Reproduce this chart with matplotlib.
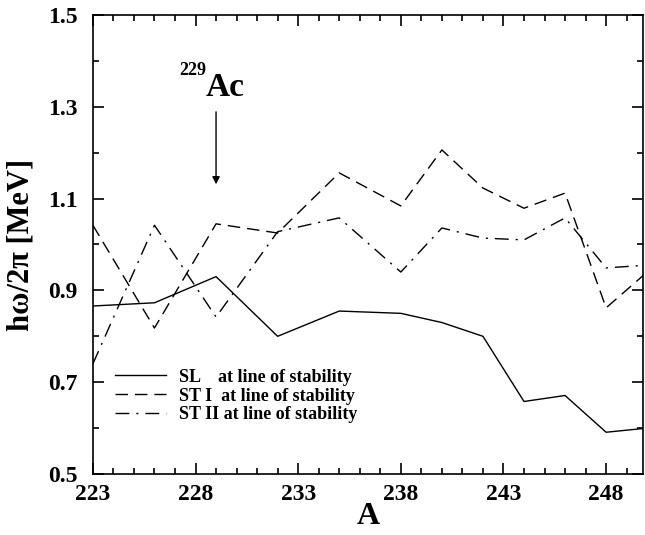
import matplotlib
matplotlib.use("Agg")
import matplotlib.pyplot as plt
from matplotlib.ticker import FixedLocator, MultipleLocator

plt.rcParams["font.family"] = ["Liberation Serif", "DejaVu Serif"]
plt.rcParams["font.weight"] = "bold"

# mass number A
mass = [223, 226, 229, 232, 235, 238, 240, 242, 244, 246, 248, 250]

# hbar*omega values (MeV)
sl = [0.866, 0.873, 0.930, 0.800, 0.855, 0.850, 0.830, 0.800, 0.658, 0.671, 0.591, 0.600]
st1 = [1.042, 0.818, 1.045, 1.025, 1.156, 1.084, 1.206, 1.123, 1.079, 1.112, 0.862, 0.940]
st2 = [0.740, 1.042, 0.842, 1.028, 1.058, 0.940, 1.036, 1.014, 1.010, 1.058, 0.949, 0.955]

xticks = [223, 228, 233, 238, 243, 248]
yticks = [0.5, 0.7, 0.9, 1.1, 1.3, 1.5]

labels = ["SL    at line of stability",
          "ST I  at line of stability",
          "ST II at line of stability"]

fig = plt.figure(figsize=(6.45, 5.35), dpi=100)
ax = fig.add_axes([0.144, 0.114, 0.853, 0.858])

ax.plot(mass, sl, color="black", lw=1.0, label=labels[0])
ax.plot(mass, st1, color="black", lw=1.0, dashes=(9, 5), label=labels[1])
ax.plot(mass, st2, color="black", lw=1.0, dashes=(10, 5, 1.5, 5), label=labels[2])

ax.set_xlim(223, 249.8)
ax.set_ylim(0.5, 1.5)
ax.xaxis.set_major_locator(FixedLocator(xticks))
ax.xaxis.set_minor_locator(MultipleLocator(1))
ax.yaxis.set_major_locator(FixedLocator(yticks))
ax.yaxis.set_minor_locator(MultipleLocator(0.1))
ax.set_xticklabels([str(t) for t in xticks])
ax.set_yticklabels([f"{t:.1f}" for t in yticks])
ax.tick_params(which="both", direction="in", top=True, right=True,
               labelsize=17, width=1.2)
ax.tick_params(which="major", length=8)
ax.tick_params(which="minor", length=4)
ax.tick_params(axis="x", which="major", pad=7)
ax.tick_params(axis="y", which="major", pad=11)
for lab in ax.get_xticklabels() + ax.get_yticklabels():
    lab.set_fontweight("bold")
for sp in ax.spines.values():
    sp.set_linewidth(1.2)

ax.set_xlabel("A", fontsize=23, fontweight="bold", labelpad=-2)
ax.set_ylabel("hω/2π [MeV]", fontsize=22, fontweight="bold", labelpad=9)

# marker for 229Ac
ax.annotate("", xy=(229, 1.125), xytext=(229, 1.295),
            arrowprops=dict(arrowstyle="-|>", color="black", lw=1.0,
                            mutation_scale=11))
ax.text(228.5, 1.343, "Ac", fontsize=24, fontweight="bold",
        ha="left", va="center")
ax.text(228.5, 1.38, "229", fontsize=13, fontweight="bold",
        ha="right", va="center")

ax.legend(loc="upper left", bbox_to_anchor=(0.027, 0.245), frameon=False,
          handlelength=2.8, handletextpad=0.75, labelspacing=0.1,
          borderpad=0.2, borderaxespad=0.2,
          prop={"weight": "bold", "size": 13})

fig.savefig("out.png", dpi=100)
